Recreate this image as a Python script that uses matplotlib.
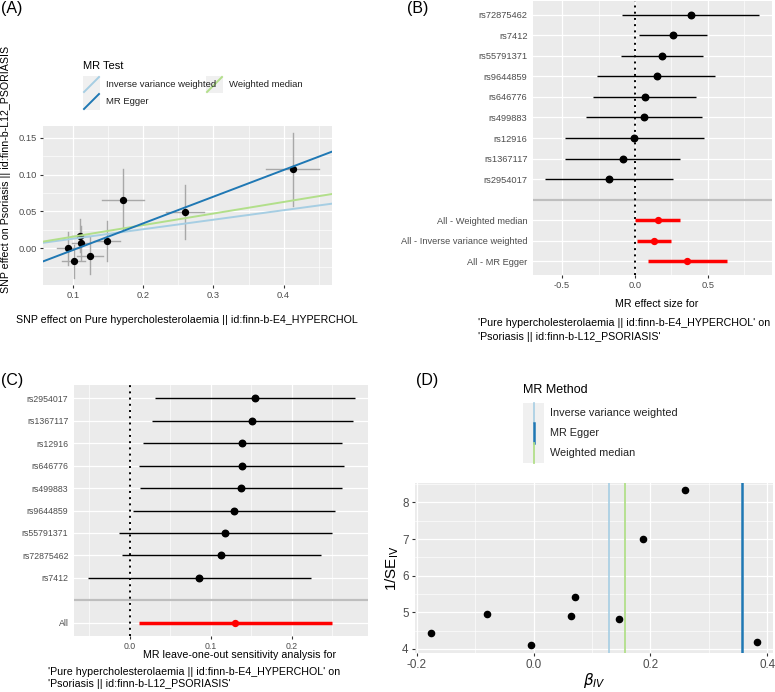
import numpy as np
import matplotlib.pyplot as plt
from matplotlib.lines import Line2D
from matplotlib.patches import Rectangle

plt.rcParams['font.family'] = ['Liberation Sans', 'DejaVu Sans']

W, H = 775, 692

col_ivw = "#A6CEE3"
col_egger = "#1F78B4"
col_wm = "#B2DF8A"
panel_bg = "#EBEBEB"
tick_col = "#4D4D4D"

# ---- (A) SNP effects: exposure (bx) and outcome (by)
a_snps = ["rs12916", "rs2954017", "rs499883", "rs9644859", "rs1367117",
          "rs646776", "rs72875462", "rs55791371", "rs7412"]
a_bx = [0.093, 0.1005, 0.111, 0.110, 0.124, 0.148, 0.171, 0.260, 0.413]
a_bx_se = [0.016, 0.016, 0.012, 0.012, 0.018, 0.019, 0.030, 0.027, 0.038]
a_by = [0.000, -0.018, 0.007, 0.017, -0.010, 0.010, 0.066, 0.049, 0.107]
a_by_se = [0.0226, 0.0226, 0.0226, 0.0226, 0.025, 0.0273, 0.041, 0.037, 0.0496]
# fitted lines: slope, intercept
fit_ivw = (0.129, 0.0)
fit_egger = (0.362, -0.0386)
fit_wm = (0.157, 0.0)

# ---- (B) single-SNP forest plot
b_labels = ["rs72875462", "rs7412", "rs55791371", "rs9644859", "rs646776",
            "rs499883", "rs12916", "rs1367117", "rs2954017"]
b_est = [0.382, 0.261, 0.186, 0.148, 0.068, 0.061, -0.007, -0.084, -0.180]
b_lo = [-0.086, 0.027, -0.093, -0.259, -0.291, -0.339, -0.482, -0.477, -0.620]
b_hi = [0.852, 0.495, 0.468, 0.552, 0.420, 0.461, 0.470, 0.309, 0.261]
b_all_labels = ["All - Weighted median", "All - Inverse variance weighted", "All - MR Egger"]
b_all_est = [0.155, 0.127, 0.357]
b_all_lo = [0.002, 0.011, 0.089]
b_all_hi = [0.309, 0.245, 0.630]

# ---- (C) leave-one-out
c_labels = ["rs2954017", "rs1367117", "rs12916", "rs646776", "rs499883",
            "rs9644859", "rs55791371", "rs72875462", "rs7412"]
c_est = [0.1546, 0.151, 0.139, 0.138, 0.137, 0.129, 0.1175, 0.1126, 0.0858]
c_lo = [0.031, 0.027, 0.0165, 0.0115, 0.012, 0.004, -0.014, -0.010, -0.052]
c_hi = [0.278, 0.276, 0.262, 0.264, 0.262, 0.253, 0.249, 0.236, 0.2235]
c_all_est = 0.130
c_all_lo = 0.0115
c_all_hi = 0.249

# ---- (D) funnel plot
d_beta = [-0.176, -0.080, -0.004, 0.0634, 0.0703, 0.1469, 0.188, 0.260, 0.383]
d_inv_se = [4.445, 4.955, 4.109, 4.909, 5.418, 4.818, 7.0, 8.327, 4.18]
d_ivw = 0.1297
d_egger = 0.3577
d_wm = 0.1566


def px_axes(fig, x0, y0, x1, y1):
    return fig.add_axes([x0 / W, 1 - y1 / H, (x1 - x0) / W, (y1 - y0) / H])


def gg_style(ax, xmaj, xmin, ymaj=None, ymin=None, fs=6.7):
    ax.set_facecolor(panel_bg)
    for s in ax.spines.values():
        s.set_visible(False)
    ax.set_xticks(xmaj)
    ax.set_xticks(xmin, minor=True)
    if ymaj is not None:
        ax.set_yticks(ymaj)
    if ymin is not None:
        ax.set_yticks(ymin, minor=True)
    ax.grid(True, which="major", color="white", lw=0.9)
    ax.grid(True, which="minor", color="white", lw=0.45)
    ax.set_axisbelow(True)
    ax.tick_params(which="major", length=2.5, width=0.8, color="#333333",
                   labelcolor=tick_col, labelsize=fs, pad=2)
    ax.tick_params(which="minor", length=0)


def fig_text(fig, x, y, s, **kw):
    fig.text(x / W, 1 - y / H, s, **kw)


fig = plt.figure(figsize=(W / 100, H / 100), dpi=100)

# ================= (A)
axA = px_axes(fig, 43, 126, 332, 285)
gg_style(axA, [0.1, 0.2, 0.3, 0.4], [0.15, 0.25, 0.35, 0.45],
         [0.0, 0.05, 0.10, 0.15], [-0.025, 0.025, 0.075, 0.125])
axA.set_yticklabels(["0.00", "0.05", "0.10", "0.15"])
axA.set_xlim(0.057, 0.469)
axA.set_ylim(-0.05, 0.166)
for bx, bxs, by, bys in zip(a_bx, a_bx_se, a_by, a_by_se):
    axA.plot([bx - bxs, bx + bxs], [by, by], color="#A8A8A8", lw=1.0, zorder=2)
    axA.plot([bx, bx], [by - bys, by + bys], color="#A8A8A8", lw=1.0, zorder=2)
axA.scatter(a_bx, a_by, s=18, color="black", zorder=3)
xx = np.array([0.057, 0.469])
for (sl, ic), c in [(fit_ivw, col_ivw), (fit_wm, col_wm), (fit_egger, col_egger)]:
    axA.plot(xx, ic + sl * xx, color=c, lw=1.4, zorder=4)
fig_text(fig, 187, 320,
         "SNP effect on Pure hypercholesterolaemia || id:finn-b-E4_HYPERCHOL",
         fontsize=7.7, ha="center", va="center")
fig_text(fig, 6, 169, "SNP effect on Psoriasis || id:finn-b-L12_PSORIASIS",
         rotation=90, fontsize=7.7, ha="center", va="center")

# legend for (A)
fig_text(fig, 83, 66, "MR Test", fontsize=8, va="center")
for (kx, ky, c, lab) in [(83, 76, col_ivw, "Inverse variance weighted"),
                         (83, 93, col_egger, "MR Egger"),
                         (206, 76, col_wm, "Weighted median")]:
    fig.add_artist(Rectangle((kx / W, 1 - (ky + 17) / H), 17 / W, 17 / H,
                             transform=fig.transFigure, facecolor="#F0F0F0",
                             edgecolor="none"))
    fig.add_artist(Line2D([(kx + 1) / W, (kx + 16) / W],
                          [1 - (ky + 16) / H, 1 - (ky + 1) / H],
                          transform=fig.transFigure, color=c, lw=1.4))
    fig_text(fig, kx + 23, ky + 8.5, lab, fontsize=6.8, va="center",
             color="#222222")

# ================= (B)
axB = px_axes(fig, 533, 1, 772, 275)
gg_style(axB, [-0.5, 0.0, 0.5], [-0.25, 0.25, 0.75])
n_b = len(b_labels)
pos_snp = np.arange(n_b) * -1 + 13
pos_all = np.array([3, 2, 1])
axB.set_yticks(list(pos_snp) + [4] + list(pos_all))
axB.set_yticklabels(b_labels + [""] + b_all_labels)
axB.tick_params(axis="y", length=0, pad=4)
axB.set_xticklabels(["-0.5", "0.0", "0.5"])
axB.set_xlim(-0.70, 0.94)
axB.set_ylim(0.32, 13.68)
axB.axhline(4, color="#BEBEBE", lw=1.6, zorder=1.5)
axB.axvline(0, color="black", ls=(0, (1, 2.2)), lw=1.4, zorder=2)
axB.hlines(pos_snp, b_lo, b_hi, color="black", lw=1.0, zorder=3)
axB.scatter(b_est, pos_snp, s=22, color="black", zorder=4)
axB.hlines(pos_all, b_all_lo, b_all_hi, color="red", lw=2.5, zorder=3)
axB.scatter(b_all_est, pos_all, s=18, color="red", zorder=4)
fig_text(fig, 657, 304, "MR effect size for", fontsize=7.7, ha="center",
         va="center")
fig_text(fig, 478, 323, "'Pure hypercholesterolaemia || id:finn-b-E4_HYPERCHOL' on",
         fontsize=7.7, va="center")
fig_text(fig, 478, 337, "'Psoriasis || id:finn-b-L12_PSORIASIS'",
         fontsize=7.7, va="center")

# ================= (C)
axC = px_axes(fig, 74, 385, 368, 636)
gg_style(axC, [0.0, 0.1, 0.2], [-0.05, 0.05, 0.15, 0.25], fs=6.3)
n_c = len(c_labels)
pos_c = np.arange(n_c) * -1 + 11
axC.set_yticks(list(pos_c) + [2, 1])
axC.set_yticklabels(c_labels + ["", "All"])
axC.tick_params(axis="y", length=0, pad=4)
axC.set_xticklabels(["0.0", "0.1", "0.2"])
axC.set_xlim(-0.069, 0.294)
axC.set_ylim(0.4, 11.6)
axC.axhline(2, color="#BEBEBE", lw=1.6, zorder=1.5)
axC.axvline(0, color="black", ls=(0, (1, 2.2)), lw=1.4, zorder=2)
axC.hlines(pos_c, c_lo, c_hi, color="black", lw=1.0, zorder=3)
axC.scatter(c_est, pos_c, s=22, color="black", zorder=4)
axC.hlines([1], [c_all_lo], [c_all_hi], color="red", lw=2.5, zorder=3)
axC.scatter([c_all_est], [1], s=18, color="red", zorder=4)
fig_text(fig, 240, 655, "MR leave-one-out sensitivity analysis for",
         fontsize=7.7, ha="center", va="center")
fig_text(fig, 48, 672, "'Pure hypercholesterolaemia || id:finn-b-E4_HYPERCHOL' on",
         fontsize=7.7, va="center")
fig_text(fig, 48, 684, "'Psoriasis || id:finn-b-L12_PSORIASIS'",
         fontsize=7.7, va="center")

# ================= (D)
axD = px_axes(fig, 415, 483, 773, 653)
gg_style(axD, [-0.2, 0.0, 0.2, 0.4], [-0.1, 0.1, 0.3],
         [4, 5, 6, 7, 8], [4.5, 5.5, 6.5, 7.5, 8.5], fs=8.4)
axD.set_xticklabels(["-0.2", "0.0", "0.2", "0.4"])
axD.set_xlim(-0.2034, 0.41)
axD.set_ylim(3.89, 8.53)
axD.scatter(d_beta, d_inv_se, s=20, color="black", zorder=4)
axD.axvline(d_ivw, color=col_ivw, lw=1.2, zorder=3)
axD.axvline(d_egger, color=col_egger, lw=1.8, zorder=3)
axD.axvline(d_wm, color=col_wm, lw=1.3, zorder=3)
axD.set_xlabel(r"$\beta_{IV}$", fontsize=11, labelpad=0)
axD.set_ylabel(r"1/SE$_{\mathrm{IV}}$", fontsize=11, labelpad=1)

# legend for (D)
fig_text(fig, 523, 390, "MR Method", fontsize=9, va="center")
fig.add_artist(Rectangle((523 / W, 1 - 463 / H), 21 / W, 60 / H,
                         transform=fig.transFigure, facecolor="#F0F0F0",
                         edgecolor="none"))
for i, (c, lw, lab) in enumerate([(col_ivw, 1.2, "Inverse variance weighted"),
                                  (col_egger, 1.8, "MR Egger"),
                                  (col_wm, 1.3, "Weighted median")]):
    y0 = 403 + 20 * i
    fig.add_artist(Line2D([533.5 / W, 533.5 / W], [1 - (y0 + 20) / H, 1 - y0 / H],
                          transform=fig.transFigure, color=c, lw=lw))
    fig_text(fig, 550, y0 + 10, lab, fontsize=7.8, va="center", color="#222222")

# panel tags
for tag, x, y in [("(A)", 1, 8), ("(B)", 407, 8), ("(C)", 1, 380), ("(D)", 416, 381)]:
    fig_text(fig, x, y, tag, fontsize=11.5, va="center")

fig.savefig("out.png", dpi=100)
